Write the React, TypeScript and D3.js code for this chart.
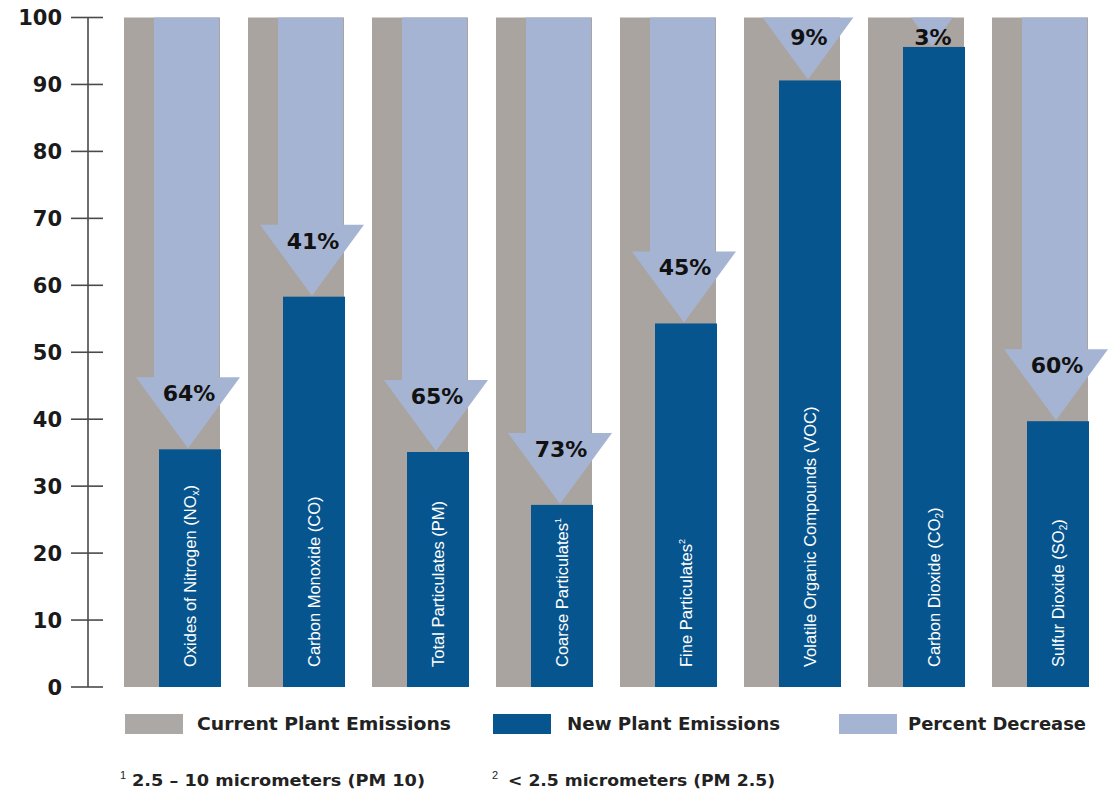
import React from "react";
import * as d3 from "d3";

const categories = [
  "Oxides of Nitrogen (NOx)",
  "Carbon Monoxide (CO)",
  "Total Particulates (PM)",
  "Coarse Particulates¹",
  "Fine Particulates²",
  "Volatile Organic Compounds (VOC)",
  "Carbon Dioxide (CO2)",
  "Sulfur Dioxide (SO2)",
];
const currentValues = [100, 100, 100, 100, 100, 100, 100, 100];
const newValues = [35.5, 58.3, 35.1, 27.2, 54.3, 90.6, 95.6, 39.7];
const percentLabels = ["64%", "41%", "65%", "73%", "45%", "9%", "3%", "60%"];
const yTicks = [0, 10, 20, 30, 40, 50, 60, 70, 80, 90, 100];
const legendItems = ["Current  Plant Emissions", "New Plant Emissions", "Percent Decrease"];
const footnotes = [
  { mark: "1", text: "2.5 – 10 micrometers (PM 10)" },
  { mark: "2", text: "< 2.5 micrometers (PM 2.5)" },
];

const GRAY = "#a9a4a0";
const LIGHT = "#a6b4d3";
const DARK = "#06558f";
const BOLD = "'DejaVu Sans', Verdana, sans-serif";
const REG = "'Liberation Sans', Arial, Helvetica, sans-serif";

function renderLabel(label: string) {
  const m = label.match(/^(.*\((?:NO|CO|SO))(x|2)(\))$/);
  if (m) {
    return [
      <tspan key="a">{m[1]}</tspan>,
      <tspan key="b" fontSize="10" dy="3">{m[2]}</tspan>,
      <tspan key="c" dy="-3">{m[3]}</tspan>,
    ];
  }
  const s = label.match(/^(.*)([¹²])$/);
  if (s) {
    return [
      <tspan key="a">{s[1]}</tspan>,
      <tspan key="b" fontSize="9" dy="-7">{s[2] === "¹" ? "1" : "2"}</tspan>,
    ];
  }
  return label;
}

export default function App() {
  const W = 1109;
  const H = 791;
  const y = d3.scaleLinear().domain([0, 100]).range([687, 17.5]);
  const x = d3
    .scaleBand<string>()
    .domain(categories)
    .range([124, 1088])
    .paddingInner(28 / 124)
    .paddingOuter(0);
  const bw = x.bandwidth();

  return (
    <svg
      width={W}
      height={H}
      style={{ position: "absolute", left: 0, top: 0, background: "#fff" }}
    >
      <defs>
        <clipPath id="plotclip">
          <rect x={0} y={y(100)} width={W} height={y(0) - y(100)} />
        </clipPath>
      </defs>

      {/* axis */}
      <line x1={88} x2={88} y1={y(100)} y2={y(0)} stroke="#4a4a4a" strokeWidth={1.6} />
      {yTicks.map((t) => (
        <g key={t}>
          <line x1={71} x2={103} y1={y(t)} y2={y(t)} stroke="#4a4a4a" strokeWidth={1.6} />
          <text
            x={62}
            y={y(t)}
            dy="0.36em"
            textAnchor="end"
            fontFamily={BOLD}
            fontWeight="bold"
            fontSize={21}
            fill="#1a1a1a"
          >
            {t}
          </text>
        </g>
      ))}

      {categories.map((c, i) => {
        const x0 = x(c) as number;
        const tipY = y(newValues[i]) - 1;
        const triTop = tipY - 71;
        const cx = x0 + 64;
        const labelY = Math.max(tipY - 47, y(100) + 27);
        return (
          <g key={c}>
            <rect x={x0} y={y(currentValues[i])} width={bw} height={y(0) - y(currentValues[i])} fill={GRAY} />
            {triTop > y(100) && (
              <rect x={x0 + 30} y={y(100)} width={65} height={triTop - y(100) + 1} fill={LIGHT} />
            )}
            <polygon
              clipPath="url(#plotclip)"
              points={`${x0 + 12},${triTop} ${x0 + 116},${triTop} ${cx},${tipY}`}
              fill={LIGHT}
            />
            <rect x={x0 + 35} y={y(newValues[i])} width={62} height={y(0) - y(newValues[i])} fill={DARK} />
            <text
              x={x0 + 65}
              y={labelY}
              textAnchor="middle"
              fontFamily={BOLD}
              fontWeight="bold"
              fontSize={22}
              fill="#111"
            >
              {percentLabels[i]}
            </text>
            <text
              transform={`translate(${x0 + 72},${667}) rotate(-90)`}
              fontFamily={REG}
              fontSize={16.5}
              fill="#ffffff"
            >
              {renderLabel(c)}
            </text>
          </g>
        );
      })}

      {/* legend */}
      {[
        { sx: 125, tx: 197, tl: 254, color: "#aca8a5" },
        { sx: 493, tx: 567, tl: 213, color: DARK },
        { sx: 839, tx: 908, tl: 178, color: LIGHT },
      ].map((L, i) => (
        <g key={i}>
          <rect x={L.sx} y={714} width={58} height={20} fill={L.color} />
          <text
            x={L.tx}
            y={730}
            fontFamily={BOLD}
            fontWeight="bold"
            fontSize={17}
            textLength={L.tl}
            lengthAdjust="spacingAndGlyphs"
            fill="#222"
          >
            {legendItems[i]}
          </text>
        </g>
      ))}

      {/* footnotes */}
      {[
        { mx: 120, tx: 132, tl: 293 },
        { mx: 492, tx: 508, tl: 267 },
      ].map((F, i) => (
        <g key={i}>
          <text x={F.mx} y={779} fontFamily={REG} fontSize={11} fill="#222">
            {footnotes[i].mark}
          </text>
          <text
            x={F.tx}
            y={786}
            fontFamily={BOLD}
            fontWeight="bold"
            fontSize={16}
            textLength={F.tl}
            lengthAdjust="spacingAndGlyphs"
            fill="#222"
          >
            {footnotes[i].text}
          </text>
        </g>
      ))}
    </svg>
  );
}
